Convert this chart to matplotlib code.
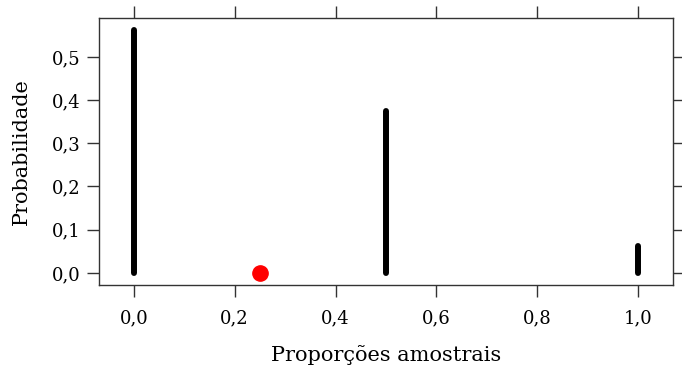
import matplotlib.pyplot as plt
import matplotlib.ticker as mticker

proporcoes = [0.0, 0.5, 1.0]
probabilidades = [0.5625, 0.375, 0.0625]
p_ponto = 0.25
p_ponto_y = 0.0
xticks = [0.0, 0.2, 0.4, 0.6, 0.8, 1.0]
yticks = [0.0, 0.1, 0.2, 0.3, 0.4, 0.5]

plt.rcParams['font.family'] = ['DejaVu Serif']
fig = plt.figure(figsize=(6.82, 3.69), dpi=100)
ax = fig.add_axes([99 / 682, 1 - 285 / 369, (673 - 99) / 682, (285 - 18) / 369])

ax.vlines(proporcoes, 0, probabilidades, colors='black', linewidth=4.3, capstyle='round')
ax.plot([p_ponto], [p_ponto_y], 'o', color='red', markersize=11)

ax.set_xlim(-0.069, 1.069)
ax.set_ylim(-0.028, 0.590)
ax.set_xticks(xticks)
ax.set_yticks(yticks)
virg = mticker.FuncFormatter(lambda v, pos: f'{v:.1f}'.replace('.', ','))
ax.xaxis.set_major_formatter(virg)
ax.yaxis.set_major_formatter(virg)
ax.tick_params(direction='out', length=8.5, width=1, color='#333333', labelsize=13,
               top=True, right=True, labeltop=False, labelright=False)
ax.tick_params(axis='x', pad=9)
ax.tick_params(axis='y', pad=5)
for s in ax.spines.values():
    s.set_color('#333333')
    s.set_linewidth(1)

ax.set_xlabel('Proporções amostrais', fontsize=15, labelpad=13)
ax.set_ylabel('Probabilidade', fontsize=15, labelpad=15)

plt.savefig('out.png', dpi=100)
